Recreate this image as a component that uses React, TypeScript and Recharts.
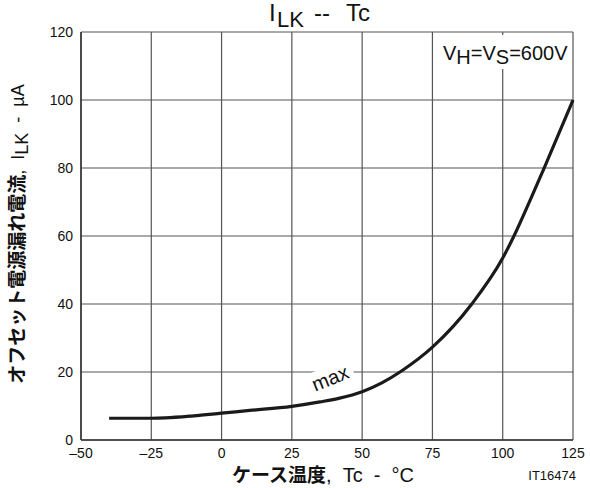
import React from 'react';
import { LineChart, Line, XAxis, YAxis, CartesianGrid, Customized } from 'recharts';

const temps = [-40, -25, -20, -10, 0, 10, 25, 35, 42, 50, 57, 64, 75, 89, 100, 104, 110, 115, 125];
const leak = [6.4, 6.4, 6.5, 7.1, 7.9, 8.7, 9.9, 11.2, 12.3, 14.2, 16.8, 20.3, 27.3, 40, 53.5, 60, 71, 80.5, 100];
const xTicks = [-50, -25, 0, 25, 50, 75, 100, 125];
const yTicks = [0, 20, 40, 60, 80, 100, 120];

const data = temps.map((t, i) => ({ t, v: leak[i] }));

const SANS = '"Liberation Sans", Arial, sans-serif';
const CJK = '"Noto Sans CJK JP", sans-serif';
const pre = { whiteSpace: 'pre' as const };

const Annotations = () => (
  <g>
    <text y={21} fontFamily={SANS} fontSize={24} fill="#111" style={pre}>
      <tspan x={269}>I</tspan>
      <tspan x={277} dy={6} fontSize={22}>LK</tspan>
      <tspan x={314} dy={-6}>--</tspan>
      <tspan x={346}>Tc</tspan>
    </text>
    <rect x={438} y={35} width={134} height={34} fill="#fff" />
    <text x={443} y={59.5} fontFamily={SANS} fontSize={20} fill="#111" style={pre}>
      <tspan>V</tspan>
      <tspan dy={4.5}>H</tspan>
      <tspan dy={-4.5}>=V</tspan>
      <tspan dy={4.5}>S</tspan>
      <tspan dy={-4.5}>=600V</tspan>
    </text>
    <g transform="translate(331,380) rotate(-22)">
      <rect x={-24} y={-14} width={48} height={22} fill="#fff" />
      <text x={0} y={5} fontFamily={SANS} fontSize={20} fill="#111" textAnchor="middle">max</text>
    </g>
    <text transform="translate(24,234) rotate(-90)" textAnchor="middle" fill="#111" style={pre}>
      <tspan fontFamily={CJK} fontWeight="bold" fontSize={19}>オフセット電源漏れ電流</tspan>
      <tspan fontFamily={SANS} fontSize={18}>{',  I'}</tspan>
      <tspan fontFamily={SANS} fontSize={18} dy={4}>LK</tspan>
      <tspan fontFamily={SANS} fontSize={18} dy={-4}>{'  -  µA'}</tspan>
    </text>
    <text y={482} fill="#111" style={pre}>
      <tspan x={232} fontFamily={CJK} fontWeight="bold" fontSize={19}>ケース温度</tspan>
      <tspan fontFamily={SANS} fontSize={20}>{',  Tc  -  °C'}</tspan>
    </text>
    <text x={576} y={480} textAnchor="end" fontFamily={SANS} fontSize={13} fill="#111">IT16474</text>
  </g>
);

const fmt = (v: number) => String(v).replace('-', '–');

export default function App() {
  return (
    <div style={{ position: 'absolute', left: 0, top: 0, background: '#fff' }}>
      <LineChart
        width={590}
        height={488}
        data={data}
        margin={{ top: 32, right: 17, bottom: 18, left: 41 }}
      >
        <CartesianGrid stroke="#555" strokeWidth={1.2} vertical horizontal />
        <XAxis
          dataKey="t"
          type="number"
          domain={[-50, 125]}
          ticks={xTicks}
          interval={0}
          tickLine={false}
          axisLine={{ stroke: '#333', strokeWidth: 1.5 }}
          tick={{ fill: '#111', fontSize: 14, fontFamily: SANS }}
          tickFormatter={fmt}
          tickMargin={2}
          height={30}
        />
        <YAxis
          type="number"
          domain={[0, 120]}
          ticks={yTicks}
          interval={0}
          tickLine={false}
          axisLine={{ stroke: '#333', strokeWidth: 1.5 }}
          tick={{ fill: '#111', fontSize: 14, fontFamily: SANS }}
          tickMargin={2}
          width={40}
        />
        <Line
          type="monotone"
          dataKey="v"
          stroke="#1a1a1a"
          strokeWidth={3.2}
          dot={false}
          isAnimationActive={false}
        />
        <Customized component={Annotations} />
      </LineChart>
    </div>
  );
}
